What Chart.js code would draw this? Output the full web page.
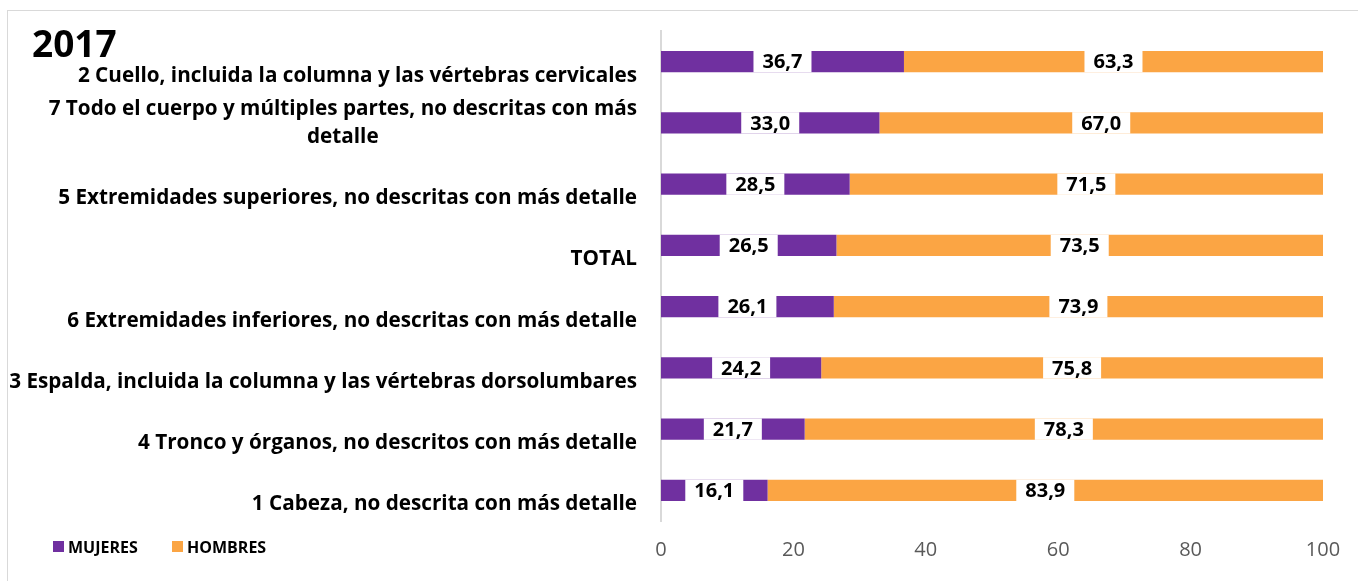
<!DOCTYPE html>
<html>
<head>
<meta charset="utf-8">
<script src="https://cdn.jsdelivr.net/npm/chart.js@4.4.1/dist/chart.umd.min.js"></script>
<style>
  html, body { margin: 0; padding: 0; background: #fff; }
  #wrap { width: 1358px; height: 581px; position: relative; }
</style>
</head>
<body>
<div id="wrap"><canvas id="partsChart"></canvas></div>
<script>
// categories, top to bottom
const categories = [
  ['2 Cuello, incluida la columna y las vértebras cervicales'],
  ['7 Todo el cuerpo y múltiples partes, no descritas con más', 'detalle'],
  ['5 Extremidades superiores, no descritas con más detalle'],
  ['TOTAL'],
  ['6 Extremidades inferiores, no descritas con más detalle'],
  ['3 Espalda, incluida la columna y las vértebras dorsolumbares'],
  ['4 Tronco y órganos, no descritos con más detalle'],
  ['1 Cabeza, no descrita con más detalle']
];
const mujeres = [36.7, 33.0, 28.5, 26.5, 26.1, 24.2, 21.7, 16.1];
const hombres = [63.3, 67.0, 71.5, 73.5, 73.9, 75.8, 78.3, 83.9];
const xTicks = [0, 20, 40, 60, 80, 100];
const chartTitle = '2017';

const FONT = '"Open Sans", Lato, sans-serif';

// frame, title, category labels, value boxes and legend
const decor = {
  id: 'decor',
  beforeDraw(chart) {
    const c = chart.ctx;
    c.save();
    c.strokeStyle = '#d9d9d9';
    c.lineWidth = 1;
    c.strokeRect(7.5, 10.5, 1500, 800);
    c.restore();
  },
  afterDatasetsDraw(chart) {
    const c = chart.ctx;
    c.save();
    // value labels on white boxes
    c.font = 'bold 20px ' + FONT;
    c.textAlign = 'center';
    c.textBaseline = 'middle';
    chart.data.datasets.forEach((ds, di) => {
      chart.getDatasetMeta(di).data.forEach((bar, i) => {
        const txt = ds.data[i].toFixed(1).replace('.', ',');
        const cx = (bar.x + bar.base) / 2;
        const w = c.measureText(txt).width + 18;
        c.fillStyle = '#fff';
        c.fillRect(cx - w / 2, bar.y - bar.height / 2, w, bar.height);
        c.fillStyle = '#000';
        c.fillText(txt, cx, bar.y + 1);
      });
    });
    c.restore();
  },
  afterDraw(chart) {
    const c = chart.ctx;
    const y = chart.scales.y;
    c.save();
    // title
    c.fillStyle = '#000';
    c.font = 'bold 37px ' + FONT;
    c.textAlign = 'left';
    c.textBaseline = 'alphabetic';
    c.fillText(chartTitle, 32, 57);

    // category labels (last line sits below the bar centre, like the original)
    c.font = 'bold 20.7px ' + FONT;
    c.textAlign = 'center';
    c.textBaseline = 'middle';
    categories.forEach((lines, i) => {
      const yc = y.getPixelForTick(i);
      const maxW = Math.max(...lines.map(l => c.measureText(l).width));
      const cx = 637 - maxW / 2;
      lines.forEach((l, k) => {
        c.fillText(l, cx, yc + 14 - (lines.length - 1 - k) * 28);
      });
    });

    // legend
    c.font = 'bold 16px ' + FONT;
    c.textAlign = 'left';
    let lx = 53;
    chart.data.datasets.forEach(ds => {
      c.fillStyle = ds.backgroundColor;
      c.fillRect(lx, 541, 11, 11);
      c.fillStyle = '#000';
      c.fillText(ds.label, lx + 15, 548);
      lx = 172;
    });
    c.restore();
  }
};

new Chart(document.getElementById('partsChart'), {
  type: 'bar',
  data: {
    labels: categories.map(l => l.join(' ')),
    datasets: [
      {
        label: 'MUJERES',
        data: mujeres,
        backgroundColor: '#7030A0',
        barPercentage: 0.35,
        categoryPercentage: 1
      },
      {
        label: 'HOMBRES',
        data: hombres,
        backgroundColor: '#FBA544',
        barPercentage: 0.35,
        categoryPercentage: 1
      }
    ]
  },
  options: {
    indexAxis: 'y',
    responsive: true,
    maintainAspectRatio: false,
    animation: false,
    layout: { padding: { left: 660, right: 35, top: 31, bottom: 0 } },
    plugins: {
      legend: { display: false },
      tooltip: { enabled: false }
    },
    scales: {
      x: {
        stacked: true,
        min: 0,
        max: 100,
        afterBuildTicks: s => { s.ticks = xTicks.map(v => ({ value: v })); },
        afterFit: s => { s.height = 60; },
        grid: { display: false, drawTicks: false },
        border: { display: false },
        ticks: { color: '#595959', font: { family: FONT, size: 20 }, padding: 17 }
      },
      y: {
        stacked: true,
        afterFit: s => { s.width = 1; },
        grid: { display: false },
        border: { display: true, color: '#d9d9d9', width: 2 },
        ticks: { display: false }
      }
    }
  },
  plugins: [decor]
});
</script>
</body>
</html>
